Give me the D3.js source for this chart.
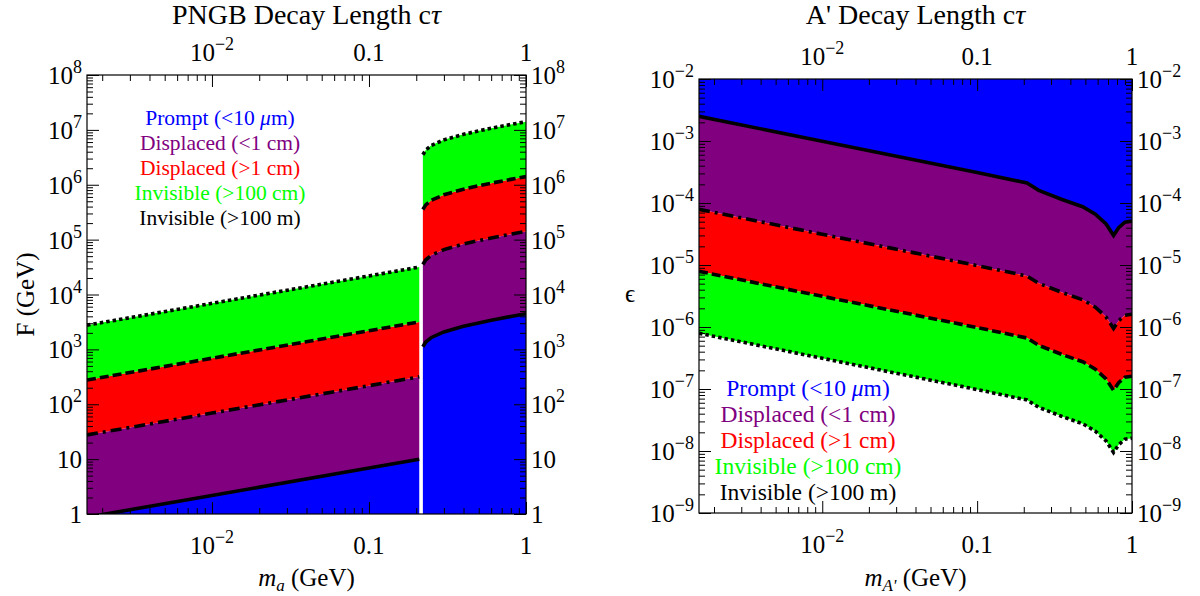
<!DOCTYPE html>
<html>
<head>
<meta charset="utf-8">
<script src="https://cdn.jsdelivr.net/npm/d3@7"></script>
<style>
  body { margin: 0; background: #fff; }
  svg text { font-family: "Liberation Serif", "DejaVu Serif", serif; fill: #000; }
</style>
</head>
<body>
<div id="root"></div>
<script>
// ---- PNGB panel (F in GeV vs m_a), below and above the muon threshold
const pngbMassLow = [0.0016, 0.01, 0.1, 0.209];
const pngbPromptLow = [0.873, 2.18, 6.90, 9.98];
const pngbDisp1cmLow = [27.6, 69.0, 218, 316];
const pngbInv100cmLow = [276, 690, 2180, 3160];
const pngbInv100mLow = [2760, 6900, 21800, 31600];

const pngbMassHigh = [0.2204, 0.23, 0.25, 0.3, 0.4, 0.5, 0.6, 0.8, 1.0];
const pngbPromptHigh = [1117, 1360, 1650, 2082, 2629, 3037, 3380, 3964, 4460];
const pngbDisp1cmHigh = [35300, 43000, 52200, 65800, 83100, 96000, 106900, 125300, 141000];
const pngbInv100cmHigh = [353000, 430000, 522000, 658000, 831000, 960000, 1069000, 1253000, 1410000];
const pngbInv100mHigh = [3.53e6, 4.30e6, 5.22e6, 6.58e6, 8.31e6, 9.60e6, 1.069e7, 1.253e7, 1.41e7];

// ---- dark photon panel (epsilon vs m_A')
const aMass = [0.0016, 0.01, 0.1, 0.21, 0.25, 0.35, 0.48, 0.58, 0.68, 0.76, 0.82, 0.9, 1.0];
const aPrompt = [2.5e-3, 9.9e-4, 3.1e-4, 2.1e-4, 1.6e-4, 1.15e-4, 8.7e-5, 6.6e-5, 4.6e-5, 3.0e-5, 4.0e-5, 4.9e-5, 5.1e-5];
const aDisp1cm = [7.91e-5, 3.13e-5, 9.80e-6, 6.64e-6, 5.06e-6, 3.64e-6, 2.75e-6, 2.09e-6, 1.45e-6, 9.5e-7, 1.26e-6, 1.55e-6, 1.61e-6];
const aInv100cm = [7.91e-6, 3.13e-6, 9.80e-7, 6.64e-7, 5.06e-7, 3.64e-7, 2.75e-7, 2.09e-7, 1.45e-7, 9.5e-8, 1.26e-7, 1.55e-7, 1.61e-7];
const aInv100m = [7.91e-7, 3.13e-7, 9.80e-8, 6.64e-8, 5.06e-8, 3.64e-8, 2.75e-8, 2.09e-8, 1.45e-8, 9.5e-9, 1.26e-8, 1.55e-8, 1.61e-8];

const massDomain = [0.0016, 1];
const massTicks = [0.01, 0.1, 1];
const pngbTicks = [1, 10, 1e2, 1e3, 1e4, 1e5, 1e6, 1e7, 1e8];
const aTicks = [1e-9, 1e-8, 1e-7, 1e-6, 1e-5, 1e-4, 1e-3, 1e-2];

const regionColors = ["#0000ff", "#800080", "#ff0000", "#00ff00"];
const lineDashes = [null, "11,5,3,5", "9,4", "3.5,3"];
const legendColors = ["#0000ff", "#800080", "#ff0000", "#00ff00", "#000000"];
const legendItems = [
  [["Prompt (<10 "], ["μ", "italic"], ["m)"]],
  [["Displaced (<1 cm)"]],
  [["Displaced (>1 cm)"]],
  [["Invisible (>100 cm)"]],
  [["Invisible (>100 m)"]]
];

const svg = d3.select("#root").append("svg")
  .attr("width", 1200).attr("height", 596);

// "10^n" style labels
function tickText(sel, v) {
  const e = Math.round(Math.log10(v));
  if (e === 0) { sel.text("1"); return; }
  if (e === 1) { sel.text("10"); return; }
  if (e === -1) { sel.text("0.1"); return; }
  sel.append("tspan").text("10");
  sel.append("tspan").attr("dy", -11).attr("font-size", 18)
    .text(e < 0 ? "\u2212" + (-e) : String(e));
}

function minorTicks(domain) {
  const out = [];
  const lo = Math.floor(Math.log10(domain[0])), hi = Math.ceil(Math.log10(domain[1]));
  for (let k = lo; k < hi; k++)
    for (let j = 2; j <= 9; j++) {
      const v = j * Math.pow(10, k);
      if (v >= domain[0] && v <= domain[1]) out.push(v);
    }
  return out;
}

function drawPanel(p) {
  const g = svg.append("g");
  const x = d3.scaleLog().domain(massDomain).range([p.x0, p.x1]);
  const y = d3.scaleLog().domain(p.yDomain).range([p.y1, p.y0]);

  g.append("clipPath").attr("id", p.id + "clip")
    .append("rect").attr("x", p.x0).attr("y", p.y0)
    .attr("width", p.x1 - p.x0).attr("height", p.y1 - p.y0);
  const plot = g.append("g").attr("clip-path", `url(#${p.id}clip)`);

  p.segments.forEach(seg => {
    const bounds = [seg.edge].concat(seg.lines);
    for (let i = 0; i < 4; i++) {
      const rows = seg.mass.map((m, j) => ({ m, a: bounds[i][j], b: bounds[i + 1][j] }));
      plot.append("path").datum(rows)
        .attr("fill", regionColors[i])
        .attr("d", d3.area().x(d => x(d.m)).y0(d => y(d.a)).y1(d => y(d.b)));
    }
    seg.lines.forEach((vals, i) => {
      plot.append("path").datum(d3.zip(seg.mass, vals))
        .attr("fill", "none").attr("stroke", "#000").attr("stroke-width", 3.6)
        .attr("stroke-dasharray", lineDashes[i])
        .attr("d", d3.line().x(d => x(d[0])).y(d => y(d[1])));
    });
  });

  // frame with inward ticks on all four sides
  const xMinor = minorTicks(massDomain), yMinor = minorTicks(p.yDomain);
  const axes = [
    [d3.axisBottom(x), `translate(0,${p.y0})`, massTicks, xMinor],
    [d3.axisTop(x), `translate(0,${p.y1})`, massTicks, xMinor],
    [d3.axisRight(y), `translate(${p.x0},0)`, p.yTicks, yMinor],
    [d3.axisLeft(y), `translate(${p.x1},0)`, p.yTicks, yMinor]
  ];
  axes.forEach(([ax, tr, major, minor]) => {
    [[major, 12], [minor, 6]].forEach(([vals, len]) => {
      const a = g.append("g").attr("transform", tr)
        .call(ax.tickValues(vals).tickSize(len).tickFormat(""));
      a.select(".domain").remove();
      a.selectAll("line").attr("stroke", "#000").attr("stroke-width", 1);
    });
  });
  g.append("rect").attr("x", p.x0).attr("y", p.y0)
    .attr("width", p.x1 - p.x0).attr("height", p.y1 - p.y0)
    .attr("fill", "none").attr("stroke", "#000").attr("stroke-width", 1.2);

  // tick labels
  const lab = g.append("g").attr("font-size", 25);
  massTicks.forEach(v => {
    lab.append("text").attr("x", x(v)).attr("y", p.y1 + 40)
      .attr("text-anchor", "middle").call(tickText, v);
    lab.append("text").attr("x", x(v)).attr("y", p.y0 - 14)
      .attr("text-anchor", "middle").call(tickText, v);
  });
  p.yTicks.forEach(v => {
    lab.append("text").attr("x", p.x0 - 5).attr("y", y(v) + 9)
      .attr("text-anchor", "end").call(tickText, v);
    lab.append("text").attr("x", p.x1 + 5).attr("y", y(v) + 9)
      .attr("text-anchor", "start").call(tickText, v);
  });

  // title
  const cx = (p.x0 + p.x1) / 2;
  const t = g.append("text").attr("x", cx).attr("y", 24)
    .attr("text-anchor", "middle").attr("font-size", 28);
  t.append("tspan").text(p.title + " c");
  t.append("tspan").attr("font-style", "italic").text("τ");

  // x axis title
  const xt = g.append("text").attr("x", cx).attr("y", 586)
    .attr("text-anchor", "middle").attr("font-size", 25);
  xt.append("tspan").attr("font-style", "italic").text("m");
  xt.append("tspan").attr("font-style", "italic").attr("font-size", 17).attr("dy", 5).text(p.sub);
  xt.append("tspan").attr("dy", -5).text(" (GeV)");

  // y axis title
  const yt = g.append("text").attr("font-size", 25).attr("text-anchor", "middle").text(p.yTitle);
  if (p.yTitleRotate)
    yt.attr("transform", `translate(${p.yTitleX},${(p.y0 + p.y1) / 2}) rotate(-90)`);
  else
    yt.attr("x", p.yTitleX).attr("y", (p.y0 + p.y1) / 2 + 6);

  // legend
  const leg = g.append("g").attr("font-size", p.legSize);
  legendItems.forEach((parts, i) => {
    const tx = leg.append("text").attr("x", p.legX).attr("y", p.legY + i * p.legStep)
      .attr("text-anchor", "middle").style("fill", legendColors[i]);
    parts.forEach(([s, st]) => {
      tx.append("tspan").attr("font-style", st || null).style("fill", legendColors[i]).text(s);
    });
  });
}

drawPanel({
  id: "pngb", x0: 87, x1: 526, y0: 75, y1: 514,
  yDomain: [1, 1e8], yTicks: pngbTicks,
  title: "PNGB Decay Length", sub: "a", yTitle: "F (GeV)", yTitleX: 34, yTitleRotate: true,
  legX: 220, legY: 125, legStep: 25, legSize: 21.5,
  segments: [
    { mass: pngbMassLow, edge: pngbMassLow.map(() => 0.1),
      lines: [pngbPromptLow, pngbDisp1cmLow, pngbInv100cmLow, pngbInv100mLow] },
    { mass: pngbMassHigh, edge: pngbMassHigh.map(() => 0.1),
      lines: [pngbPromptHigh, pngbDisp1cmHigh, pngbInv100cmHigh, pngbInv100mHigh] }
  ]
});

drawPanel({
  id: "aprime", x0: 699, x1: 1132, y0: 79, y1: 513,
  yDomain: [1e-9, 1e-2], yTicks: aTicks,
  title: "A' Decay Length", sub: "A'", yTitle: "ϵ", yTitleX: 630, yTitleRotate: false,
  legX: 808, legY: 396, legStep: 26, legSize: 23.5,
  segments: [
    { mass: aMass, edge: aMass.map(() => 0.1),
      lines: [aPrompt, aDisp1cm, aInv100cm, aInv100m] }
  ]
});
</script>
</body>
</html>
